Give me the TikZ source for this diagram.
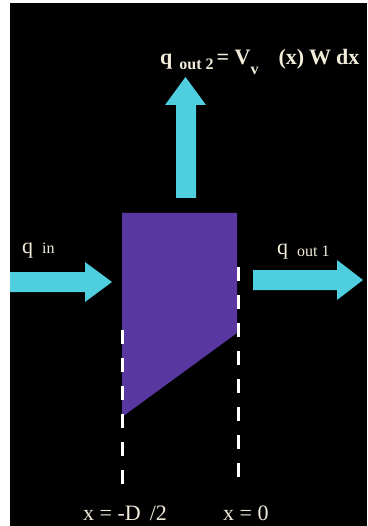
\documentclass[tikz,border=0pt]{standalone}
\usepackage{fontspec}
\setmainfont{Liberation Serif}
\usepackage{tikz}
\usetikzlibrary{positioning}
\definecolor{flowcyan}{RGB}{78,206,222}
\definecolor{slabpurple}{RGB}{88,56,160}
\definecolor{labelcream}{RGB}{242,236,218}
\newcommand{\bigfont}{\fontsize{22}{26}\selectfont}
\newcommand{\subfont}{\fontsize{16}{18}\selectfont}

\begin{document}
\begin{tikzpicture}[x=1pt, y=-1pt,
    flow/.style={fill=flowcyan},
    slab/.style={fill=slabpurple},
    cutline/.style={draw=white, line width=3pt, dash pattern=on 14pt off 14pt},
    lbl/.style={text=labelcream, inner sep=0pt, anchor=base west, font=\bigfont}]
  \useasboundingbox (0,0) rectangle (367,526);
  \clip (0,0) rectangle (367,526);
  \fill[black] (10,3) rectangle (367,526);
  % the element
  \fill[slab] (122,213) -- (237,213) -- (237,333) -- (122,417) -- cycle;
  \draw[cutline] (122,330) -- (122,484);
  \draw[cutline] (238,267) -- (238,484);
  % flows
  \fill[flow] (176,198) -- (176,105) -- (165,105) -- (185.5,77)
    -- (206,105) -- (196,105) -- (196,198) -- cycle;
  \fill[flow] (10,272) -- (85,272) -- (85,262) -- (112,282)
    -- (85,302) -- (85,292) -- (10,292) -- cycle;
  \fill[flow] (253,270) -- (337,270) -- (337,260) -- (363,280)
    -- (337,300) -- (337,290) -- (253,290) -- cycle;
  % labels
  \node[lbl, font=\bigfont\bfseries] (qout2) at (160,65)
    {q\hspace{7pt}\raisebox{-5pt}{\subfont out 2}\hspace{3pt}= V\raisebox{-10pt}{\subfont v}\hspace{20pt}(x)\hspace{5pt}W\hspace{5pt}dx};
  \node[lbl] (qin) at (22,253) {q\hspace{9pt}{\subfont in}};
  \node[lbl] (qout1) at (277,254) {q\hspace{9pt}\raisebox{-2pt}{\subfont out 1}};
  \node[lbl] (xleft) at (83,520) {x = -D\hspace{9pt}/2};
  \node[lbl] (xright) at (223,520) {x = 0};
\end{tikzpicture}
\end{document}
